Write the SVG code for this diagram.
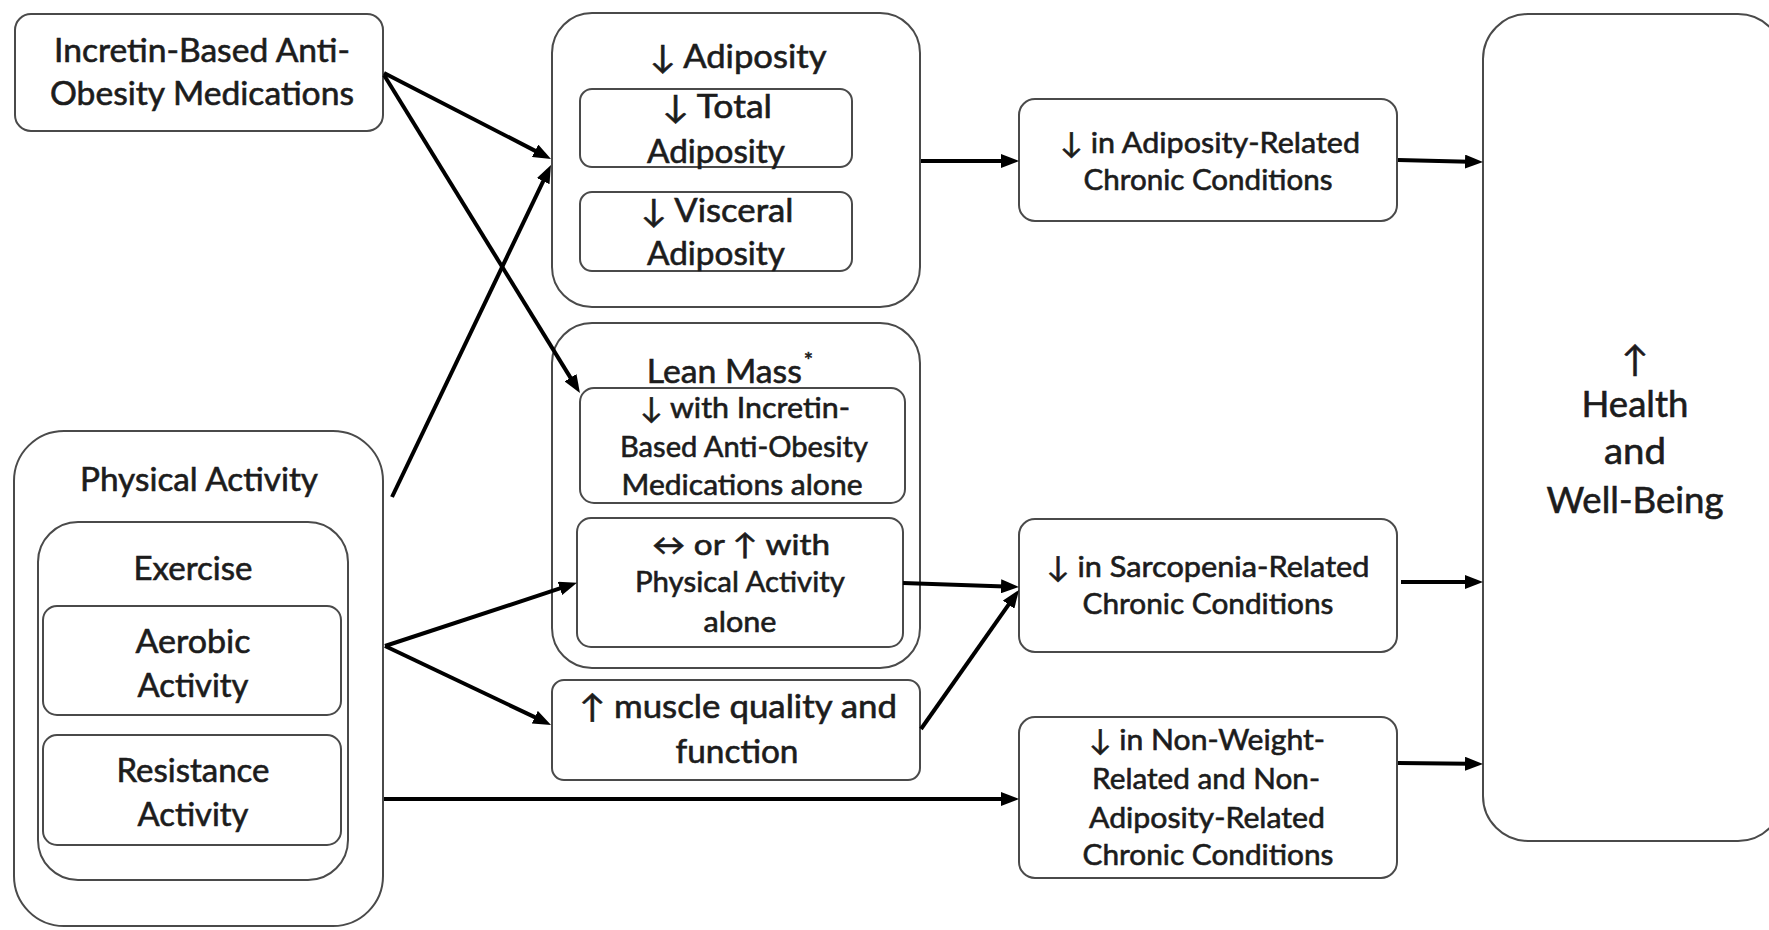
<svg xmlns="http://www.w3.org/2000/svg" width="1769" height="930" viewBox="0 0 1769 930">
<style>
.box{fill:#fff;stroke:#4a4a4a;stroke-width:2}
.t{font-family:Lato,"DejaVu Sans",sans-serif;fill:#1c1c1c;stroke:#1c1c1c;stroke-width:0.6;text-anchor:middle}
.L{font-size:32px}
.M{font-size:29px}
.H{font-size:36px}
.c{fill:none;stroke:#000;stroke-width:4}
</style>
<defs>
<marker id="ah" markerUnits="userSpaceOnUse" markerWidth="20" markerHeight="14" refX="4" refY="7" orient="auto">
<path d="M0,0 L18,7 L0,14 z" fill="#000"/>
</marker>
</defs>
<rect width="1769" height="930" fill="#fff"/>

<g id="incretin">
<rect class="box" x="15" y="14" width="368" height="117" rx="16"/>
<text class="t L" x="202" y="62" textLength="296" lengthAdjust="spacingAndGlyphs">Incretin-Based Anti-</text>
<text class="t L" x="202" y="105" textLength="304" lengthAdjust="spacingAndGlyphs">Obesity Medications</text>
</g>

<g id="adiposity">
<rect class="box" x="552" y="13" width="368" height="294" rx="40"/>
<text class="t L" x="738" y="68" textLength="177" lengthAdjust="spacingAndGlyphs">↓ Adiposity</text>
<g id="total-adiposity">
<rect class="box" x="580" y="89" width="272" height="78" rx="12"/>
<text class="t L" x="717" y="118" textLength="110" lengthAdjust="spacingAndGlyphs">↓ Total</text>
<text class="t L" x="716" y="163" textLength="138" lengthAdjust="spacingAndGlyphs">Adiposity</text>
</g>
<g id="visceral-adiposity">
<rect class="box" x="580" y="192" width="272" height="79" rx="12"/>
<text class="t L" x="717" y="222" textLength="153" lengthAdjust="spacingAndGlyphs">↓ Visceral</text>
<text class="t L" x="716" y="265" textLength="138" lengthAdjust="spacingAndGlyphs">Adiposity</text>
</g>
</g>

<g id="lean-mass">
<rect class="box" x="552" y="323" width="368" height="345" rx="40"/>
<text class="t L" x="730" y="383"><tspan textLength="155" lengthAdjust="spacingAndGlyphs">Lean Mass</tspan><tspan font-size="22" dx="2" dy="-15">*</tspan></text>
<g id="lean-aom">
<rect class="box" x="580" y="388" width="325" height="115" rx="14"/>
<text class="t M" x="745" y="418" textLength="210" lengthAdjust="spacingAndGlyphs">↓ with Incretin-</text>
<text class="t M" x="744" y="457" textLength="248" lengthAdjust="spacingAndGlyphs">Based Anti-Obesity</text>
<text class="t M" x="742" y="495" textLength="241" lengthAdjust="spacingAndGlyphs">Medications alone</text>
</g>
<g id="lean-pa">
<rect class="box" x="577" y="518" width="326" height="129" rx="14"/>
<text class="t M" x="741" y="555" textLength="178" lengthAdjust="spacingAndGlyphs">↔ or ↑ with</text>
<text class="t M" x="740" y="592" textLength="210" lengthAdjust="spacingAndGlyphs">Physical Activity</text>
<text class="t M" x="740" y="632" textLength="73" lengthAdjust="spacingAndGlyphs">alone</text>
</g>
</g>

<g id="muscle">
<rect class="box" x="552" y="680" width="368" height="100" rx="12"/>
<text class="t L" x="738" y="718" textLength="318" lengthAdjust="spacingAndGlyphs">↑ muscle quality and</text>
<text class="t L" x="737" y="763" textLength="123" lengthAdjust="spacingAndGlyphs">function</text>
</g>

<g id="physical-activity">
<rect class="box" x="14" y="431" width="369" height="495" rx="50"/>
<text class="t L" x="199" y="491" textLength="238" lengthAdjust="spacingAndGlyphs">Physical Activity</text>
<g id="exercise">
<rect class="box" x="38" y="522" width="310" height="358" rx="40"/>
<text class="t L" x="193" y="580" textLength="119" lengthAdjust="spacingAndGlyphs">Exercise</text>
<g id="aerobic">
<rect class="box" x="43" y="606" width="298" height="109" rx="14"/>
<text class="t L" x="193" y="653" textLength="115" lengthAdjust="spacingAndGlyphs">Aerobic</text>
<text class="t L" x="193" y="697" textLength="111" lengthAdjust="spacingAndGlyphs">Activity</text>
</g>
<g id="resistance">
<rect class="box" x="43" y="735" width="298" height="110" rx="14"/>
<text class="t L" x="193" y="782" textLength="153" lengthAdjust="spacingAndGlyphs">Resistance</text>
<text class="t L" x="193" y="826" textLength="111" lengthAdjust="spacingAndGlyphs">Activity</text>
</g>
</g>
</g>

<g id="adiposity-related">
<rect class="box" x="1019" y="99" width="378" height="122" rx="16"/>
<text class="t M" x="1210" y="153" textLength="300" lengthAdjust="spacingAndGlyphs">↓ in Adiposity-Related</text>
<text class="t M" x="1208" y="190" textLength="249" lengthAdjust="spacingAndGlyphs">Chronic Conditions</text>
</g>

<g id="sarcopenia-related">
<rect class="box" x="1019" y="519" width="378" height="133" rx="16"/>
<text class="t M" x="1208" y="577" textLength="323" lengthAdjust="spacingAndGlyphs">↓ in Sarcopenia-Related</text>
<text class="t M" x="1208" y="614" textLength="251" lengthAdjust="spacingAndGlyphs">Chronic Conditions</text>
</g>

<g id="non-weight-related">
<rect class="box" x="1019" y="717" width="378" height="161" rx="16"/>
<text class="t M" x="1207" y="750" textLength="236" lengthAdjust="spacingAndGlyphs">↓ in Non-Weight-</text>
<text class="t M" x="1206" y="789" textLength="228" lengthAdjust="spacingAndGlyphs">Related and Non-</text>
<text class="t M" x="1207" y="828" textLength="236" lengthAdjust="spacingAndGlyphs">Adiposity-Related</text>
<text class="t M" x="1208" y="865" textLength="251" lengthAdjust="spacingAndGlyphs">Chronic Conditions</text>
</g>

<g id="health">
<rect class="box" x="1483" y="14" width="300" height="827" rx="45"/>
<text class="t H" x="1635" y="372">↑</text>
<text class="t H" x="1635" y="417" textLength="107" lengthAdjust="spacingAndGlyphs">Health</text>
<text class="t H" x="1635" y="464" textLength="62" lengthAdjust="spacingAndGlyphs">and</text>
<text class="t H" x="1635" y="513" textLength="177" lengthAdjust="spacingAndGlyphs">Well-Being</text>
</g>

<g id="connectors">
<line class="c" x1="384" y1="73" x2="538.6" y2="152.6" marker-end="url(#ah)"/>
<line class="c" x1="384" y1="75" x2="572.6" y2="381.1" marker-end="url(#ah)"/>
<line class="c" x1="392" y1="497" x2="544.9" y2="177.6" marker-end="url(#ah)"/>
<line class="c" x1="385" y1="646" x2="563.7" y2="587.2" marker-end="url(#ah)"/>
<line class="c" x1="385" y1="646" x2="538.4" y2="718.9" marker-end="url(#ah)"/>
<line class="c" x1="384" y1="799" x2="1005" y2="799" marker-end="url(#ah)"/>
<line class="c" x1="921" y1="161" x2="1005" y2="161" marker-end="url(#ah)"/>
<line class="c" x1="903" y1="583" x2="1005" y2="586.5" marker-end="url(#ah)"/>
<line class="c" x1="921" y1="729" x2="1010.9" y2="601.4" marker-end="url(#ah)"/>
<line class="c" x1="1398" y1="160" x2="1469" y2="161.7" marker-end="url(#ah)"/>
<line class="c" x1="1401" y1="582" x2="1469" y2="582" marker-end="url(#ah)"/>
<line class="c" x1="1398" y1="763" x2="1469" y2="763.8" marker-end="url(#ah)"/>
</g>
</svg>
